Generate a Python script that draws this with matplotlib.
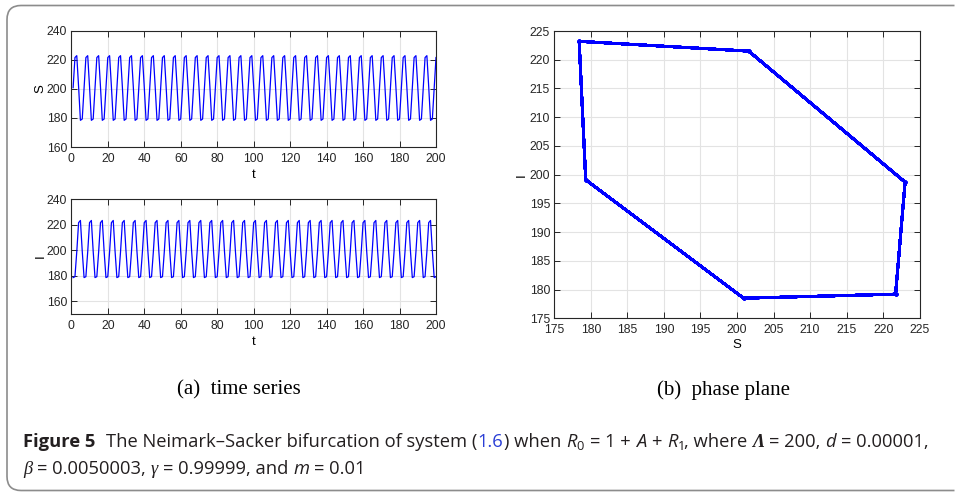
import numpy as np
import matplotlib
matplotlib.use('Agg')
import matplotlib.pyplot as plt
from matplotlib.patches import PathPatch
from matplotlib.path import Path
from matplotlib.transforms import IdentityTransform

S_cycle = [200.9, 221.7, 223.0, 201.6, 178.4, 179.3]
I_cycle = [178.5, 179.2, 198.7, 221.5, 223.2, 199.1]
n_steps = 200

t = np.arange(1, n_steps + 1)
S = np.resize(S_cycle, n_steps)
I = np.resize(I_cycle, n_steps)

plt.rcParams['font.family'] = ['Liberation Sans', 'DejaVu Sans']
plt.rcParams['mathtext.fontset'] = 'custom'
plt.rcParams['mathtext.rm'] = 'Open Sans'
plt.rcParams['mathtext.it'] = 'Open Sans:italic'

W, H = 955, 492
fig = plt.figure(figsize=(W / 100, H / 100), dpi=100)


def box(l, t_, r, b):
    # pixel box (from top-left) -> figure fractions
    return [l / W, 1 - b / H, (r - l) / W, (b - t_) / H]


def style(ax, xt, yt, xpad=4, ypad=3):
    ax.set_xticks(xt)
    ax.set_yticks(yt)
    ax.grid(True, color='#e3e3e3', lw=0.8)
    ax.set_axisbelow(True)
    ax.tick_params(direction='in', top=True, right=True, length=4, width=0.7,
                   labelsize=8.7, colors='#262626')
    ax.tick_params(axis='x', pad=xpad)
    ax.tick_params(axis='y', pad=ypad)
    for sp in ax.spines.values():
        sp.set_color('#262626')
        sp.set_linewidth(0.8)


# time series S
ax1 = fig.add_axes(box(71.3, 31, 436, 147))
ax1.plot(t, S, color='b', lw=0.9)
ax1.set_xlim(0, 200)
ax1.set_ylim(160, 240)
style(ax1, range(0, 201, 20), range(160, 241, 20))
ax1.set_xlabel('t', fontsize=9.5, labelpad=3)
ax1.set_ylabel('S', fontsize=9.5, labelpad=0)

# time series I
ax2 = fig.add_axes(box(71.3, 199, 436, 314))
ax2.plot(t, I, color='b', lw=0.9)
ax2.set_xlim(0, 200)
ax2.set_ylim(150, 240)
style(ax2, range(0, 201, 20), range(160, 241, 20))
ax2.set_xlabel('t', fontsize=9.5, labelpad=3)
ax2.set_ylabel('I', fontsize=9.5, labelpad=0)

# phase plane
ax3 = fig.add_axes(box(554.3, 31, 919.7, 318.3))
ax3.plot(S, I, color='b', lw=1.8, marker='.', ms=3)
ax3.set_xlim(175, 225)
ax3.set_ylim(175, 225)
style(ax3, range(175, 226, 5), range(175, 226, 5))
ax3.set_xlabel('S', fontsize=9.5, labelpad=2)
ax3.set_ylabel('I', fontsize=9.5, labelpad=1)

# sub captions
fig.text(239 / W, 1 - 390 / H, '(a)  time series', family='Liberation Serif',
         fontsize=15, ha='center', va='center')
fig.text(723 / W, 1 - 390 / H, '(b)  phase plane', family='Liberation Serif',
         fontsize=15, ha='center', va='center')

# frame round the figure: left, top and bottom edges, open on the right
top, bot, left, r = H - 5.5, 1.5, 7, 14
verts = [(W - 0.5, top), (left + r, top), (left, top), (left, top - r),
         (left, bot + r), (left, bot), (left + r, bot), (W - 0.5, bot)]
codes = [Path.MOVETO, Path.LINETO, Path.CURVE3, Path.CURVE3,
         Path.LINETO, Path.CURVE3, Path.CURVE3, Path.LINETO]
frame = PathPatch(Path(verts, codes), transform=IdentityTransform(), fill=False,
                  edgecolor='#8c8c8c', lw=1.2)
fig.patches.append(frame)

# caption, built piece by piece
renderer = fig.canvas.get_renderer()
cap_fs = 13.2
sp = 5.0
reg = dict(family='Open Sans', color='#231f20')
ita = dict(family='Open Sans', style='italic', color='#231f20')
grk = dict(family='Liberation Serif', style='italic', color='#231f20')

line1 = [
    ('Figure 5', dict(family='Open Sans', weight='bold', color='#231f20'), 2.2 * sp),
    ('The Neimark–Sacker bifurcation of system (', reg, 0),
    ('1.6', dict(family='Open Sans', color='#2b3fd6'), 0),
    (') when', reg, sp),
    ('$R_0$', reg, sp),
    ('= 1 +', reg, sp),
    ('A', ita, sp),
    ('+', reg, sp),
    ('$R_1$', reg, 0),
    (', where', reg, sp),
    ('Λ', dict(family='Liberation Serif', style='italic', weight='bold', color='#231f20'), sp),
    ('= 200,', reg, sp),
    ('d', ita, sp),
    ('= 0.00001,', reg, 0),
]
line2 = [
    ('β', grk, sp),
    ('= 0.0050003,', reg, sp),
    ('γ', grk, sp),
    ('= 0.99999, and', reg, sp),
    ('m', ita, sp),
    ('= 0.01', reg, 0),
]


def put_row(pieces, x0, y):
    x = x0
    for s, kw, gap in pieces:
        tx = fig.text(x, y, s, fontsize=cap_fs, transform=IdentityTransform(),
                      va='baseline', **kw)
        x += tx.get_window_extent(renderer).width + gap


put_row(line1, 23, H - 447)
put_row(line2, 23, H - 474)

fig.savefig('out.png', dpi=100)
